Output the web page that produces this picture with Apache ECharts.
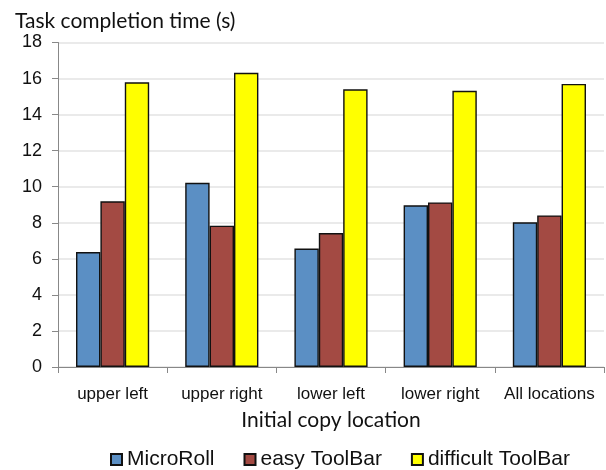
<!DOCTYPE html>
<html>
<head>
<meta charset="utf-8">
<script src="https://cdn.jsdelivr.net/npm/echarts@6/dist/echarts.min.js"></script>
<style>
  html, body { margin: 0; padding: 0; background: #fff; }
  #chart { width: 606px; height: 470px; }
</style>
</head>
<body>
<div id="chart"></div>
<script>
// Mean task completion time per initial copy location
const categories = ['upper left', 'upper right', 'lower left', 'lower right', 'All locations'];
const seriesNames = ['MicroRoll', 'easy ToolBar', 'difficult ToolBar'];
const microRoll = [6.38, 10.22, 6.57, 8.97, 8.03];
const easyToolBar = [9.19, 7.84, 7.43, 9.13, 8.41];
const difficultToolBar = [15.79, 16.32, 15.40, 15.32, 15.70];
const yTicks = [0, 2, 4, 6, 8, 10, 12, 14, 16, 18];

const colors = ['#5b8fc4', '#a34a43', '#ffff00'];
const values = [microRoll, easyToolBar, difficultToolBar];

const chart = echarts.init(document.getElementById('chart'), null, { renderer: 'canvas' });

chart.setOption({
  animation: false,
  textStyle: { fontFamily: 'Liberation Sans, Arial, sans-serif' },
  title: {
    text: 'Task completion time (s)',
    left: 10,
    top: 6,
    textStyle: { fontFamily: 'Lato, sans-serif', fontSize: 21, fontWeight: 'normal', color: '#111' }
  },
  grid: { left: 58, right: 2, top: 42.5, bottom: 103, containLabel: false },
  legend: {
    data: seriesNames,
    top: 444,
    left: 105,
    itemWidth: 11,
    itemHeight: 11,
    itemGap: 29,
    icon: 'rect',
    textStyle: { fontSize: 21, color: '#111' }
  },
  xAxis: {
    type: 'category',
    data: categories,
    name: 'Initial copy location',
    nameLocation: 'middle',
    nameGap: 43,
    nameTextStyle: { fontFamily: 'Lato, sans-serif', fontSize: 21, color: '#111' },
    axisLine: { lineStyle: { color: '#888' } },
    axisTick: { show: true, length: 6, lineStyle: { color: '#888' } },
    axisLabel: { interval: 0, fontSize: 17, color: '#111', margin: 19 }
  },
  yAxis: {
    type: 'value',
    min: yTicks[0],
    max: yTicks[yTicks.length - 1],
    interval: 2,
    axisLine: { show: true, lineStyle: { color: '#888' } },
    axisTick: { show: true, length: 6, lineStyle: { color: '#888' } },
    axisLabel: { fontSize: 18, color: '#111', margin: 16 },
    splitLine: { lineStyle: { color: '#e3e3e3', width: 1.5 } }
  },
  series: seriesNames.map((name, i) => ({
    name: name,
    type: 'bar',
    data: values[i],
    barGap: '0%',
    barCategoryGap: '33%',
    itemStyle: { color: colors[i], borderColor: '#111', borderWidth: 1.4 }
  }))
});
</script>
</body>
</html>
